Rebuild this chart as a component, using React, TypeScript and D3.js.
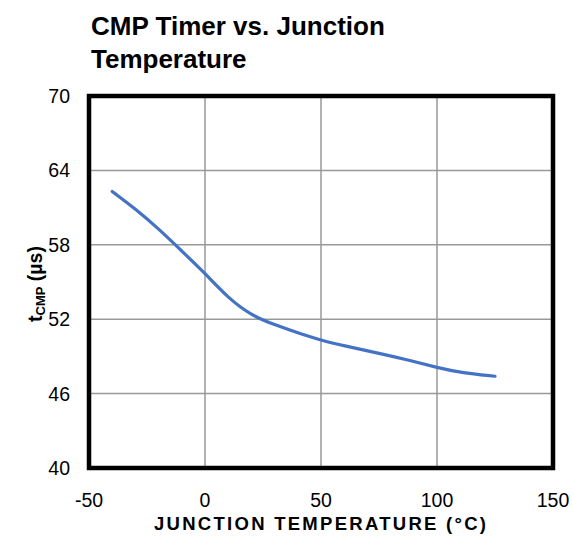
import React from "react";
import * as d3 from "d3";

const temps = [-40, -30, -20, -10, 0, 10, 20, 30, 40, 50, 60, 75, 90, 100, 110, 125];
const tcmp = [62.3, 60.9, 59.3, 57.5, 55.7, 53.7, 52.3, 51.55, 50.9, 50.3, 49.85, 49.25, 48.6, 48.1, 47.7, 47.4];
const xTicks = [-50, 0, 50, 100, 150];
const yTicks = [40, 46, 52, 58, 64, 70];

export default function App() {
  const W = 573, H = 539;
  const left = 89, right = 553, top = 96, bottom = 468;
  const x = d3.scaleLinear().domain([-50, 150]).range([left, right]);
  const y = d3.scaleLinear().domain([40, 70]).range([bottom, top]);
  const line = d3
    .line<number>()
    .x((_, i) => x(temps[i]))
    .y((d) => y(d))
    .curve(d3.curveBasis);
  const font = "Arial, 'Liberation Sans', sans-serif";
  return (
    <svg width={W} height={H} style={{ position: "absolute", left: 0, top: 0, background: "#fff" }}>
      <rect x={0} y={0} width={W} height={H} fill="#fff" />
      <text x={91} y={35} fontFamily={font} fontWeight="bold" fontSize={26} fill="#000">
        CMP Timer vs. Junction
      </text>
      <text x={91} y={68} fontFamily={font} fontWeight="bold" fontSize={26} fill="#000">
        Temperature
      </text>
      {xTicks.slice(1, -1).map((t) => (
        <line key={"gx" + t} x1={x(t)} x2={x(t)} y1={top} y2={bottom} stroke="#999" strokeWidth={1.5} />
      ))}
      {yTicks.slice(1, -1).map((t) => (
        <line key={"gy" + t} x1={left} x2={right} y1={y(t)} y2={y(t)} stroke="#999" strokeWidth={1.5} />
      ))}
      <path d={line(tcmp) || ""} fill="none" stroke="#4472C4" strokeWidth={3.2} strokeLinecap="round" />
      <rect x={left} y={top} width={right - left} height={bottom - top} fill="none" stroke="#000" strokeWidth={4.5} />
      {yTicks.map((t) => (
        <text key={"yl" + t} x={70} y={y(t) + 7} textAnchor="end" fontFamily={font} fontSize={19.5} fill="#000">
          {t}
        </text>
      ))}
      {xTicks.map((t) => (
        <text key={"xl" + t} x={x(t)} y={507} textAnchor="middle" fontFamily={font} fontSize={19.5} fill="#000">
          {t}
        </text>
      ))}
      <text
        x={(left + right) / 2 - 1}
        y={530}
        textAnchor="middle"
        fontFamily={font}
        fontWeight="bold"
        fontSize={18.5}
        textLength={332}
        lengthAdjust="spacing"
        fill="#000"
      >
        JUNCTION TEMPERATURE (°C)
      </text>
      <text
        transform={`translate(42, ${(top + bottom) / 2 + 2}) rotate(-90)`}
        textAnchor="middle"
        fontFamily={font}
        fontWeight="bold"
        fontSize={19.5}
        fill="#000"
      >
        t<tspan fontSize={13} dy={3}>CMP</tspan>
        <tspan dy={-3}> (µs)</tspan>
      </text>
    </svg>
  );
}
